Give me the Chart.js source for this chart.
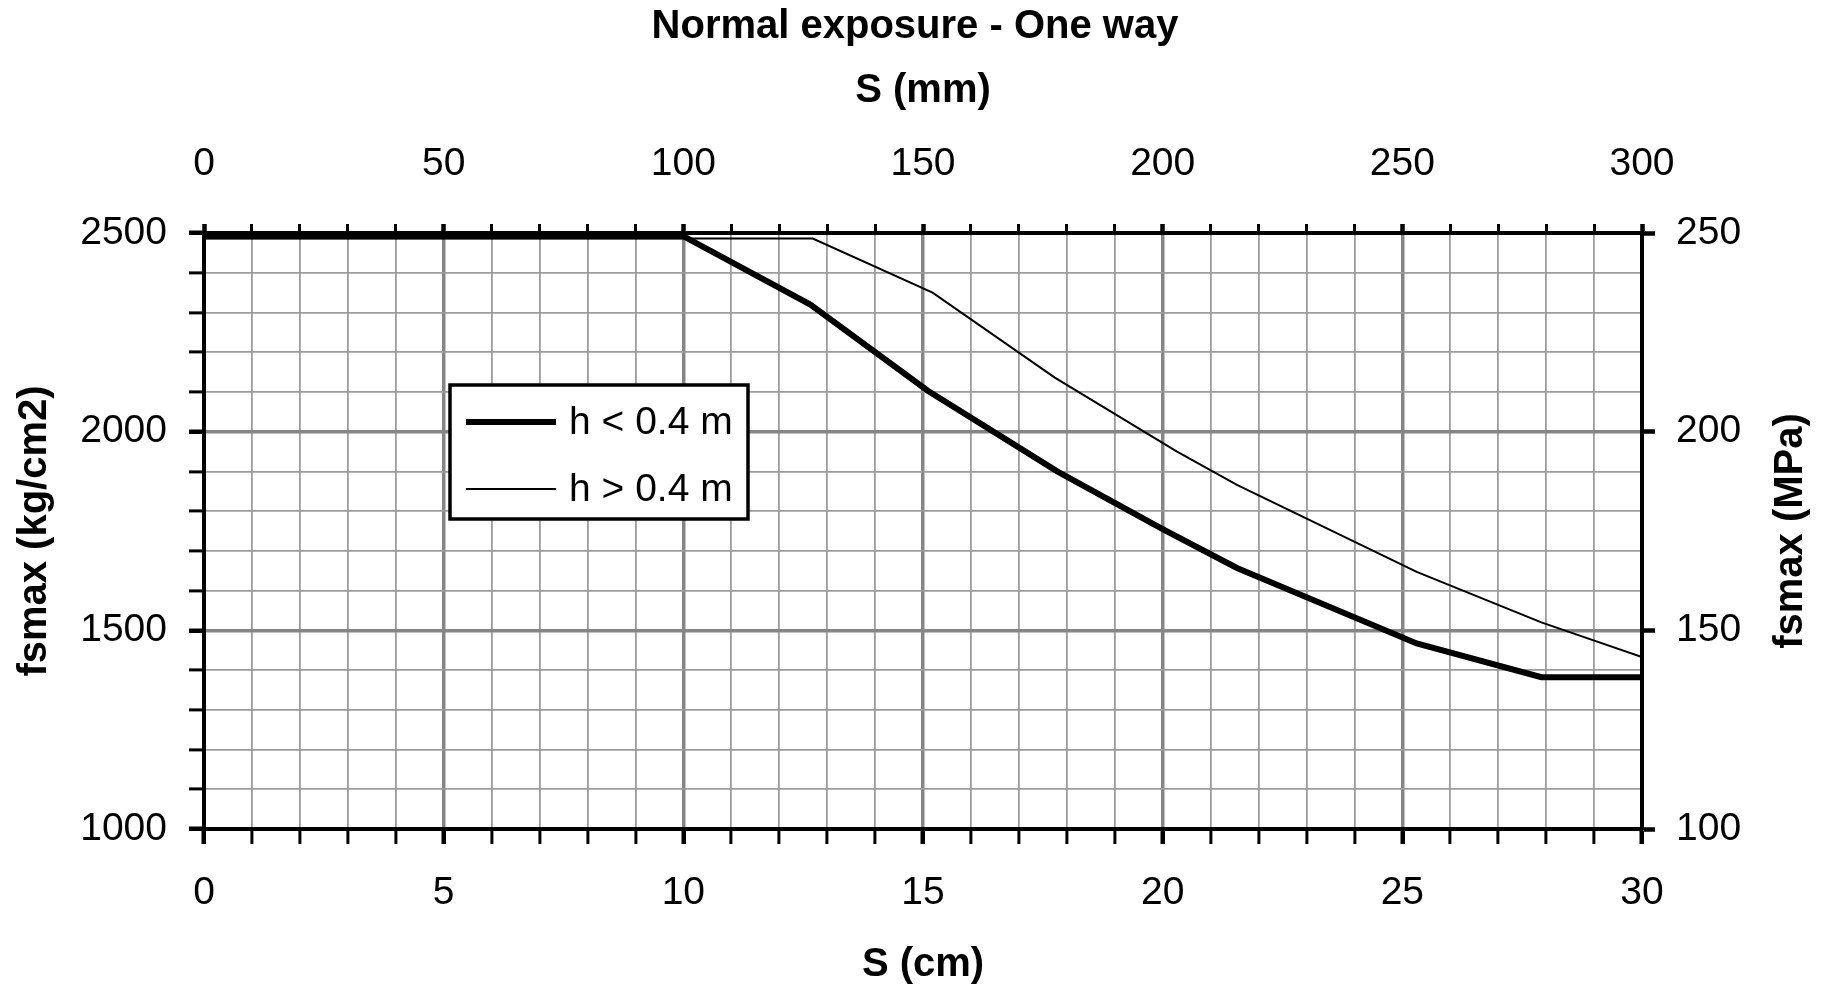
<!DOCTYPE html>
<html lang="en">
<head>
  <meta charset="UTF-8">
  <title>Normal exposure - One way</title>
  <script src="https://cdn.jsdelivr.net/npm/chart.js"></script>
  <style>
    body { margin: 0; background: #fff; }
    .wrap { width: 1830px; height: 990px; }
  </style>
</head>
<body>
<div class="wrap"><canvas id="chart"></canvas></div>
<script>
  // spacing S (cm) and max steel stress fsmax (kg/cm2)
  const thickS = [0, 10, 12.65, 15.1, 17.8, 20.0, 21.55, 25.3, 27.9, 30];
  const thickF = [2492, 2492, 2320, 2103, 1900, 1755, 1657, 1467, 1382, 1382];
  const thinS = [0, 12.7, 15.2, 17.75, 20.3, 21.55, 25.3, 27.9, 30];
  const thinF = [2486, 2486, 2350, 2136, 1950, 1866, 1647, 1520, 1433];

  const seriesNames = ['h < 0.4 m', 'h > 0.4 m'];

  // labelled ticks on each axis
  const cmLabels = [0, 5, 10, 15, 20, 25, 30];
  const mmLabels = [0, 50, 100, 150, 200, 250, 300];
  const kgLabels = [1000, 1500, 2000, 2500];
  const mpaLabels = [100, 150, 200, 250];

  const FONT = "'Liberation Sans', Arial, sans-serif";
  Chart.defaults.font.family = FONT;
  Chart.defaults.color = '#000';

  const toPts = (xs, ys) => xs.map((x, i) => ({ x: x, y: ys[i] }));

  const isMajor = (v, step) => Math.abs(Math.round(v) % step) === 0;

  function gridStyle(step, lo, hi) {
    return {
      color: c => {
        const v = c.tick ? c.tick.value : NaN;
        if (v === lo || v === hi) return 'rgba(0,0,0,0)';
        return isMajor(v, step) ? '#858585' : '#9c9c9c';
      },
      lineWidth: c => (c.tick && isMajor(c.tick.value, step)) ? 3.5 : 1.8,
      tickColor: '#000',
      tickWidth: c => (c.tick && isMajor(c.tick.value, step)) ? 4.5 : 3
    };
  }

  // legend box and the right axis title (reads bottom to top, like the left one)
  const extras = {
    id: 'extras',
    afterDraw(chart) {
      const ctx = chart.ctx;
      const a = chart.chartArea;
      ctx.save();
      const bx = a.left + 246, by = a.top + 152, bw = 298, bh = 134;
      ctx.fillStyle = '#fff';
      ctx.fillRect(bx, by, bw, bh);
      ctx.lineWidth = 3.5;
      ctx.strokeStyle = '#000';
      ctx.strokeRect(bx, by, bw, bh);
      const rows = [37, 104];
      chart.data.datasets.forEach((ds, i) => {
        const y = by + rows[i];
        ctx.beginPath();
        ctx.lineWidth = ds.borderWidth;
        ctx.moveTo(bx + 16, y);
        ctx.lineTo(bx + 106, y);
        ctx.stroke();
        ctx.fillStyle = '#000';
        ctx.font = '39px ' + FONT;
        ctx.textBaseline = 'middle';
        ctx.textAlign = 'left';
        ctx.fillText(ds.label, bx + 119, y + 1);
      });
      ctx.translate(1791, (a.top + a.bottom) / 2);
      ctx.rotate(-Math.PI / 2);
      ctx.font = 'bold 40px ' + FONT;
      ctx.textAlign = 'center';
      ctx.textBaseline = 'middle';
      ctx.fillText('fsmax (MPa)', 0, 0);
      ctx.restore();
    }
  };

  new Chart(document.getElementById('chart'), {
    type: 'scatter',
    data: {
      datasets: [
        {
          label: seriesNames[0],
          data: toPts(thickS, thickF),
          showLine: true,
          borderColor: '#000',
          borderWidth: 6,
          pointRadius: 0,
          tension: 0,
          xAxisID: 'x',
          yAxisID: 'y'
        },
        {
          label: seriesNames[1],
          data: toPts(thinS, thinF),
          showLine: true,
          borderColor: '#000',
          borderWidth: 2,
          pointRadius: 0,
          tension: 0,
          xAxisID: 'x',
          yAxisID: 'y'
        }
      ]
    },
    options: {
      responsive: true,
      maintainAspectRatio: false,
      devicePixelRatio: 1,
      animation: false,
      layout: { padding: 0 },
      plugins: {
        legend: { display: false },
        tooltip: { enabled: false },
        title: {
          display: true,
          text: 'Normal exposure - One way',
          font: { size: 40, weight: 'bold', lineHeight: 1.2 },
          padding: { top: 3, bottom: 0 },
          color: '#000'
        }
      },
      scales: {
        x: {
          type: 'linear',
          position: 'bottom',
          min: 0, max: 30,
          grid: Object.assign(gridStyle(5, 0, 30), { tickLength: 15 }),
          border: { color: '#000', width: 4 },
          ticks: {
            stepSize: 1, autoSkip: false, maxRotation: 0, padding: 26,
            font: { size: 39 },
            callback: v => cmLabels.includes(Math.round(v)) && Math.abs(v - Math.round(v)) < 1e-6 ? String(Math.round(v)) : ''
          },
          title: {
            display: true, text: 'S (cm)',
            font: { size: 40, weight: 'bold', lineHeight: 1.2 },
            padding: { top: 0, bottom: 1 }
          },
          afterFit: s => { s.height = 161; }
        },
        x2: {
          type: 'linear',
          position: 'top',
          min: 0, max: 300,
          grid: {
            drawOnChartArea: false, tickLength: 9, tickColor: '#000',
            tickWidth: c => (c.tick && isMajor(c.tick.value, 50)) ? 4.5 : 3
          },
          border: { color: '#000', width: 4 },
          ticks: {
            stepSize: 10, autoSkip: false, maxRotation: 0, padding: 36,
            font: { size: 39 },
            callback: v => mmLabels.includes(Math.round(v)) ? String(Math.round(v)) : ''
          },
          title: {
            display: true, text: 'S (mm)',
            font: { size: 40, weight: 'bold', lineHeight: 1.2 },
            padding: { top: 16, bottom: 0 }
          },
          afterFit: s => { s.height = 182; }
        },
        y: {
          type: 'linear',
          position: 'left',
          min: 1000, max: 2500,
          grid: Object.assign(gridStyle(500, 1000, 2500), { tickLength: 15 }),
          border: { color: '#000', width: 4 },
          ticks: {
            stepSize: 100, autoSkip: false, padding: 22,
            font: { size: 39 },
            callback: v => kgLabels.includes(Math.round(v)) ? String(Math.round(v)) : ''
          },
          title: {
            display: true, text: 'fsmax (kg/cm2)',
            font: { size: 40, weight: 'bold', lineHeight: 1.2 },
            padding: { top: 11, bottom: 0 }
          },
          afterFit: s => { s.width = 204; }
        },
        y2: {
          type: 'linear',
          position: 'right',
          min: 100, max: 250,
          grid: { drawOnChartArea: false, tickLength: 13, tickColor: '#000', tickWidth: 4.5 },
          border: { color: '#000', width: 4 },
          ticks: {
            stepSize: 50, autoSkip: false, padding: 21,
            font: { size: 39 },
            callback: v => mpaLabels.includes(Math.round(v)) ? String(Math.round(v)) : ''
          },
          title: { display: false },
          afterFit: s => { s.width = 188; }
        }
      }
    },
    plugins: [extras]
  });
</script>
</body>
</html>
